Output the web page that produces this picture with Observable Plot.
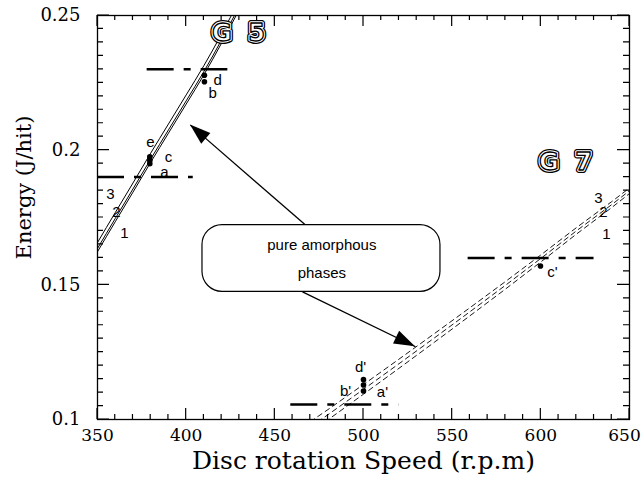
<!DOCTYPE html>
<html><head><meta charset="utf-8">
<script src="https://cdn.jsdelivr.net/npm/d3@7"></script>
<script src="https://cdn.jsdelivr.net/npm/@observablehq/plot@0.6"></script>
<style>body{margin:0;background:#fff} #chart svg{display:block;background:#fff}</style>
</head><body><div id="chart"></div>
<script>
// ---- data ----
const g5Speed  = [350, 360, 370, 380, 390, 400, 410, 420, 430];
const g5Curve1 = [0.1623, 0.1734, 0.1844, 0.1955, 0.2063, 0.2171, 0.2280, 0.2398, 0.2523];
const g5Curve2 = [0.1635, 0.1746, 0.1856, 0.1967, 0.2075, 0.2183, 0.2292, 0.2410, 0.2535];
const g5Curve3 = [0.1657, 0.1768, 0.1878, 0.1989, 0.2097, 0.2205, 0.2314, 0.2432, 0.2557];

const g7Speed  = [470, 480, 500, 520, 540, 560, 580, 600, 620, 640, 655];
const g7Line1  = [0.0952, 0.0999, 0.1094, 0.1190, 0.1287, 0.1385, 0.1484, 0.1585, 0.1688, 0.1787, 0.1865];
const g7Line2  = [0.0972, 0.1018, 0.1112, 0.1207, 0.1303, 0.1400, 0.1498, 0.1598, 0.1700, 0.1798, 0.1875];
const g7Line3  = [0.0992, 0.1037, 0.1130, 0.1224, 0.1319, 0.1415, 0.1512, 0.1611, 0.1712, 0.1809, 0.1885];

const levelEnergy = [0.23, 0.19, 0.16, 0.1056];
const levelFrom   = [378, 350, 559, 459];
const levelTo     = [423.5, 404, 630, 520];

const pointSpeed  = [379.5, 379.5, 379.5, 410.3, 410.3, 500, 500, 500, 599.8];
const pointEnergy = [0.1975, 0.1962, 0.1950, 0.2278, 0.2254, 0.1148, 0.1128, 0.1106, 0.157];

const labelText   = ["e", "c", "a", "d", "b", "d'", "b'", "a'", "c'", "1", "2", "3", "1", "2", "3"];
const labelSpeed  = [379.9, 390, 387.8, 417.7, 414.9, 498.3, 489.9, 510.7, 606.6, 365.2, 360.7, 357.3, 637, 635.3, 632.5];
const labelEnergy = [0.203, 0.1975, 0.1917, 0.226, 0.2211, 0.1193, 0.1104, 0.110, 0.1548, 0.1693, 0.177, 0.1837, 0.1689, 0.177, 0.1822];

const groupName   = ["G\u00a0\u00a05", "G\u00a0\u00a07"];
const groupSpeed  = [429.5, 613.9];
const groupEnergy = [0.2433, 0.1956];

const boxLines  = ["pure amorphous", "phases"];
const boxLineEnergy = [0.1647, 0.1543];
const boxCenterSpeed = 476.5;
const boxSpeed  = [409.2, 543.4];
const boxEnergy = [0.1474, 0.1722];

const arrowFromSpeed  = [467.3, 465.6];
const arrowFromEnergy = [0.1722, 0.1474];
const arrowToSpeed    = [402.4, 529.3];
const arrowToEnergy   = [0.2093, 0.1270];

const speedTicks = [350, 400, 450, 500, 550, 600, 650];
const speedTickLabels = ["350", "400", "450", "500", "550", "600", "650"];
const energyTicks = [0.1, 0.15, 0.2, 0.25];
const energyTickLabels = ["0.1", "0.15", "0.2", "0.25"];
const speedMinor = d3.range(350, 651, 10);
const energyMinor = d3.range(0, 31).map(i => +(0.1 + i * 0.005).toFixed(3));

const xTitle = "Disc rotation Speed (r.p.m)";
const yTitle = "Energy (J/hit)";

// ---- tables ----
const g5Data = [];
[g5Curve1, g5Curve2, g5Curve3].forEach((arr, k) => arr.forEach((e, i) => g5Data.push({series: k + 1, speed: g5Speed[i], energy: e})));
const g7Data = [];
[g7Line1, g7Line2, g7Line3].forEach((arr, k) => arr.forEach((e, i) => g7Data.push({series: k + 1, speed: g7Speed[i], energy: e})));
const levels = levelEnergy.map((e, i) => ({energy: e, from: levelFrom[i], to: levelTo[i]}));
const points = pointSpeed.map((s, i) => ({speed: s, energy: pointEnergy[i]}));
const labels = labelText.map((t, i) => ({text: t, speed: labelSpeed[i], energy: labelEnergy[i]}));
const groups = groupName.map((t, i) => ({text: t, speed: groupSpeed[i], energy: groupEnergy[i]}));
const boxText = boxLines.map((t, i) => ({text: t, speed: boxCenterSpeed, energy: boxLineEnergy[i]}));
const arrows = arrowFromSpeed.map((s, i) => ({x1: s, y1: arrowFromEnergy[i], x2: arrowToSpeed[i], y2: arrowToEnergy[i]}));

const serif = "DejaVu Serif";
const sans = "Liberation Sans";
const NS = "http://www.w3.org/2000/svg";
const W = 642, H = 479;

function el(name, attrs) {
  const e = document.createElementNS(NS, name);
  for (const k in attrs) e.setAttribute(k, attrs[k]);
  return e;
}
// inward ticks on all four sides, placed with the plot's scales
function tickMarks(index, scales) {
  const [x0, x1] = [scales.x(350), scales.x(650)];
  const [yb, yt] = [scales.y(0.1), scales.y(0.25)];
  let d = "";
  for (const v of speedMinor) {
    const len = speedTicks.includes(v) ? 11 : 5, x = scales.x(v);
    d += `M${x},${yb}v${-len}M${x},${yt}v${len}`;
  }
  for (const v of energyMinor) {
    const len = energyTicks.some(t => Math.abs(t - v) < 1e-9) ? 12 : 6, y = scales.y(v);
    d += `M${x0},${y}h${len}M${x1},${y}h${-len}`;
  }
  return el("path", {d, stroke: "black", "stroke-width": 1.2, fill: "none"});
}
function boxMark(index, scales) {
  const x1 = scales.x(boxSpeed[0]), x2 = scales.x(boxSpeed[1]);
  const y1 = scales.y(boxEnergy[1]), y2 = scales.y(boxEnergy[0]);
  return el("rect", {x: x1, y: y1, width: x2 - x1, height: y2 - y1, rx: 20, ry: 20,
    fill: "white", stroke: "black", "stroke-width": 1.2});
}
function arrowHeads(index, scales) {
  const g = el("g", {});
  for (const a of arrows) {
    const sx = scales.x(a.x1), sy = scales.y(a.y1), tx = scales.x(a.x2), ty = scales.y(a.y2);
    const len = Math.hypot(tx - sx, ty - sy), ux = (tx - sx) / len, uy = (ty - sy) / len;
    const L = 21, Wd = 7;
    const bx = tx - L * ux, by = ty - L * uy;
    g.appendChild(el("polygon", {points: `${tx},${ty} ${bx - Wd * uy},${by + Wd * ux} ${bx + Wd * uy},${by - Wd * ux}`, fill: "black"}));
  }
  return g;
}

const chart = Plot.plot({
  width: W, height: H,
  marginLeft: 97, marginRight: 13, marginTop: 15, marginBottom: 60,
  x: {domain: [350, 650], axis: null},
  y: {domain: [0.1, 0.25], axis: null},
  marks: [
    tickMarks,
    Plot.line(g5Data, {x: "speed", y: "energy", z: "series", stroke: "black", strokeWidth: 1, curve: "natural", clip: true}),
    Plot.line(g7Data, {x: "speed", y: "energy", z: "series", stroke: "black", strokeWidth: 0.9, strokeDasharray: "5,4", clip: true}),
    Plot.ruleY(levels, {y: "energy", x1: "from", x2: "to", stroke: "black", strokeWidth: 2.5, strokeDasharray: "27,10,7,10"}),
    Plot.dot(points, {x: "speed", y: "energy", r: 2.8, fill: "black"}),
    Plot.link(arrows, {x1: "x1", y1: "y1", x2: "x2", y2: "y2", stroke: "black", strokeWidth: 1.3}),
    arrowHeads,
    boxMark,
    Plot.text(boxText, {x: "speed", y: "energy", text: "text", fontFamily: sans, fontSize: 15, fill: "black"}),
    Plot.text(labels, {x: "speed", y: "energy", text: "text", fontFamily: sans, fontSize: 15, fill: "black"}),
    Plot.text(groups, {x: "speed", y: "energy", text: "text", fontFamily: "DejaVu Sans", fontWeight: "bold", fontSize: 24, fill: "black", stroke: "black", strokeWidth: 6}),
    Plot.text(groups, {x: "speed", y: "energy", text: "text", fontFamily: "DejaVu Sans", fontWeight: "bold", fontSize: 24, fill: "white", stroke: "white", strokeWidth: 3.4}),
    Plot.text(groups, {x: "speed", y: "energy", text: "text", fontFamily: "DejaVu Sans", fontWeight: "bold", fontSize: 24, fill: "white", stroke: "black", strokeWidth: 1.3, paintOrder: "normal"}),

    // tick labels
    Plot.axisX({ticks: speedTicks.slice(0, -1), anchor: "bottom", tickSize: 0, tickPadding: 9, tickFormat: (d, i) => speedTickLabels[i], fontFamily: serif, fontSize: 17, fill: "black", label: null}),
    Plot.axisX({ticks: speedTicks.slice(-1), anchor: "bottom", tickSize: 0, tickPadding: 9, dx: -5, tickFormat: () => speedTickLabels[speedTickLabels.length - 1], fontFamily: serif, fontSize: 17, fill: "black", label: null}),
    Plot.axisY({ticks: energyTicks, anchor: "left", tickSize: 0, tickPadding: 17, tickFormat: (d, i) => energyTickLabels[i], fontFamily: serif, fontSize: 18, fill: "black", label: null}),
    // axis titles
    Plot.text([xTitle], {text: d => d, frameAnchor: "bottom", textAnchor: "middle", lineAnchor: "middle", dy: 41, fontFamily: serif, fontSize: 25, fill: "black"}),
    Plot.text([yTitle], {text: d => d, frameAnchor: "left", textAnchor: "middle", lineAnchor: "middle", dx: -73, dy: -30, rotate: -90, fontFamily: serif, fontSize: 21, fill: "black"}),
    Plot.frame({stroke: "black", strokeWidth: 1.3})
  ]
});
document.getElementById("chart").appendChild(chart);
</script>
</body></html>
